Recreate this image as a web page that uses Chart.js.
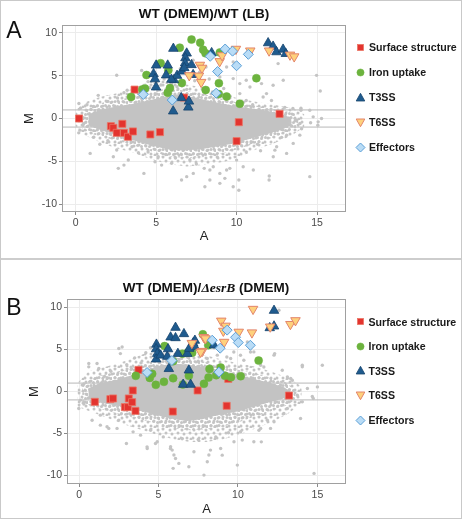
<!DOCTYPE html>
<html>
<head>
<meta charset="utf-8">
<script src="https://cdn.jsdelivr.net/npm/chart.js@4.4.1/dist/chart.umd.min.js"></script>
<style>
  body { margin: 0; background: #fff; }
  #wrap { position: relative; width: 462px; height: 519px; overflow: hidden;
          font-family: "Liberation Sans", Arial, sans-serif; background: #fff; }
  #wrap canvas { position: absolute; left: 0; }
  .frame { position: absolute; left: 0; top: 0; width: 462px; height: 519px; box-sizing: border-box;
           border: 1px solid #c9c9c9; pointer-events: none; }
  .divider { position: absolute; left: 0; top: 258px; width: 462px; height: 2px; background: #cdcdcd; }
  .ptitle { position: absolute; left: 0; text-align: center; font-weight: bold; font-size: 13.5px;
            line-height: 18px; color: #111; white-space: nowrap; }
  .ptitle .gene { font-family: "Liberation Serif", "Times New Roman", serif; font-style: italic; }
  .letter { position: absolute; left: 3px; width: 22px; text-align: center; font-size: 23px;
            line-height: 26px; color: #111; }
  .legend { position: absolute; }
  .legend .row { display: flex; align-items: center; font-weight: bold; font-size: 10.6px; color: #1a1a1a;
                 white-space: nowrap; }
  .legend svg { flex: none; }
  .legend span { margin-left: 2px; }
</style>
</head>
<body>
<div id="wrap">
  <canvas id="chartA" width="346" height="259" style="top:0"></canvas>
  <canvas id="chartB" width="346" height="259" style="top:260px"></canvas>
  <div class="ptitle" style="top:5px; width:408px">WT (DMEM)/WT (LB)</div>
  <div class="ptitle" style="top:279px; width:412px">WT (DMEM)/<span class="gene">Δ<b>esrB</b></span> (DMEM)</div>
  <div class="letter" style="top:17px">A</div>
  <div class="letter" style="top:294px">B</div>
  <div class="legend" id="legA" style="left:354px; top:34.5px"></div>
  <div class="legend" id="legB" style="left:353.5px; top:309.4px"></div>
  <div class="divider"></div>
  <div class="frame"></div>
</div>
<script>
// =============================================================================
// DATA  (A = mean log2 expression, M = log2 fold change)
// =============================================================================
const xTicks = [0, 5, 10, 15];
const yTicks = [-10, -5, 0, 5, 10];
const cutoffs = [1, -1];
const categories = ["Surface structure", "Iron uptake", "T3SS", "T6SS", "Effectors"];

// ---- panel A : WT (DMEM) / WT (LB) ----
const surfaceA = [[0.21,0.0],[2.19,-0.89],[2.34,-1.09],[2.55,-1.67],[2.9,-0.62],[3.0,-1.67],[3.25,-2.13],
  [3.56,-1.51],[3.66,3.37],[4.64,-1.86],[5.24,-1.59],[6.73,2.44],[10.14,-0.43],[10.0,-2.64],[12.67,0.54]];
const ironA = [[3.44,2.52],[4.14,3.37],[4.31,3.49],[4.4,5.07],[5.28,6.45],[5.76,5.62],[5.72,3.0],[5.86,3.55],
  [6.47,8.26],[7.2,9.2],[7.74,8.84],[7.92,8.02],[8.07,7.6],[6.6,4.14],[8.08,3.32],[8.9,4.12],[8.89,2.85],
  [8.96,7.7],[9.38,2.56],[10.2,1.72],[11.23,4.7]];
const t3ssA = [[6.07,8.15],[5.0,6.2],[4.84,5.2],[4.93,4.6],[4.99,3.65],[5.72,6.2],[5.62,5.05],[6.1,4.5],
  [6.3,5.0],[6.9,7.6],[6.82,7.05],[6.8,6.45],[6.6,5.5],[6.75,5.9],[7.2,6.25],[7.3,5.1],[8.45,7.65],
  [6.06,0.85],[6.56,2.4],[7.0,1.3],[7.04,2.0],[11.96,8.8],[12.27,8.4],[12.48,7.75],[12.89,8.05],
  [13.06,7.55],[5.95,4.55]];
const t6ssA = [[7.72,6.24],[7.85,5.89],[7.06,5.02],[7.66,4.98],[7.8,4.24],[8.95,6.66],[9.1,7.35],
  [9.96,8.1],[10.85,7.9],[12.02,7.9],[13.32,7.42],[13.58,7.22]];
const effectorA = [[4.2,2.8],[6.0,2.15],[8.36,7.25],[9.29,8.1],[9.75,7.85],[8.82,5.48],[10.0,6.15],
  [10.73,7.48],[8.73,2.95]];
// all other genes: dense core, denser and sparser fringes, and single outlying genes
const coreA = [[0.8,0.5],[1.5,1.0],[2.5,1.4],[3.5,1.7],[4.5,2.1],[5.5,2.5],[6.3,2.8],[7.0,2.6],[7.7,2.3],
  [8.7,1.9],[9.8,1.5],[10.8,1.2],[11.9,0.9],[12.8,0.5],[13.4,0.1],[13.4,-0.8],[12.8,-1.3],[11.9,-1.8],
  [10.8,-2.4],[9.8,-2.9],[8.7,-3.3],[7.7,-3.6],[6.7,-3.7],[6.0,-3.7],[5.3,-3.4],[4.6,-3.1],[3.5,-2.5],
  [2.5,-1.9],[1.5,-1.3],[0.8,-0.8]];
const midA = [[0.4,0.8],[1.0,1.5],[2.0,2.0],[3.0,2.3],[4.0,2.8],[5.0,3.3],[5.8,3.5],[6.6,3.3],[7.5,3.0],
  [8.5,2.6],[9.5,2.1],[10.5,1.7],[11.5,1.4],[12.6,1.0],[13.7,0.6],[13.9,-0.9],[13.0,-1.7],[12.0,-2.4],
  [11.0,-3.0],[10.0,-3.6],[9.0,-4.1],[8.0,-4.5],[7.0,-4.6],[6.0,-4.5],[5.0,-4.0],[4.0,-3.4],[3.0,-2.8],
  [2.0,-2.3],[1.0,-1.8],[0.4,-1.2]];
const haloA = [[0.0,1.0],[0.6,1.9],[1.5,2.5],[2.5,2.9],[3.5,3.4],[4.4,4.2],[5.2,4.6],[6.0,4.3],[7.0,3.9],
  [8.0,3.6],[9.0,3.0],[10.0,2.4],[11.0,2.0],[12.3,1.6],[13.5,1.2],[14.2,0.5],[14.2,-1.0],[13.4,-2.0],
  [12.3,-2.9],[11.2,-3.6],[10.2,-4.5],[9.3,-5.0],[8.1,-5.4],[6.9,-5.6],[5.7,-5.3],[4.6,-4.7],[3.6,-4.0],
  [2.4,-3.4],[1.3,-2.6],[0.5,-1.9],[0.0,-0.9]];
const genesA = [[0.2,1.75],[0.3,1.2],[0.7,1.6],[1.1,1.4],[1.4,2.7],[2.0,2.0],[2.55,5.05],[2.6,2.4],[3.0,3.0],
  [3.2,3.3],[3.6,2.6],[3.9,2.9],[4.1,5.6],[4.2,3.8],[4.5,4.3],[4.6,3.6],[5.0,4.1],[5.3,3.9],[5.5,4.6],
  [5.96,4.07],[6.3,3.7],[6.5,5.8],[6.9,3.4],[7.3,6.8],[7.4,4.4],[7.7,5.4],[7.9,3.5],[8.1,6.0],[8.3,4.6],
  [8.5,3.1],[8.96,4.84],[9.2,3.5],[9.38,6.0],[9.6,2.6],[9.79,6.6],[9.79,4.65],[10.2,4.07],[10.2,2.9],
  [10.6,4.46],[10.6,2.1],[10.83,3.67],[11.0,1.6],[11.55,4.07],[11.65,2.5],[11.86,2.9],[12.17,2.1],
  [12.27,3.87],[12.58,6.4],[12.9,4.46],[13.0,1.3],[13.5,1.16],[14.0,1.2],[14.0,0.97],[14.55,0.97],
  [14.76,0.19],[14.97,5.03],[15.2,3.2],[15.28,0.0],[15.07,-0.39],[13.73,-0.2],[13.94,-0.58],[13.3,-0.5],
  [0.19,-1.67],[0.27,-1.36],[0.5,-0.6],[0.9,-4.07],[1.1,-2.2],[1.5,-3.0],[2.0,-2.6],[2.34,-4.46],
  [2.55,-3.68],[2.65,-5.81],[3.0,-5.43],[3.27,-4.84],[3.5,-3.3],[3.9,-4.0],[4.24,-6.4],[4.5,-3.9],
  [4.93,-5.04],[5.13,-4.46],[5.34,-5.43],[5.6,-4.2],[5.96,-5.23],[6.2,-4.6],[6.58,-7.17],[6.9,-6.78],
  [7.1,-4.8],[7.31,-6.4],[7.5,-5.3],[7.99,-5.81],[8.03,-7.95],[8.34,-7.17],[8.34,-6.0],[8.55,-5.62],
  [8.8,-4.5],[8.96,-6.4],[8.96,-7.56],[9.27,-6.98],[9.38,-6.01],[9.58,-5.81],[9.79,-7.95],[10.0,-4.85],
  [10.14,-8.37],[10.14,-7.17],[10.41,-5.62],[10.6,-3.9],[11.04,-6.0],[11.3,-3.0],[11.49,-3.76],
  [12.02,-7.17],[12.03,-6.7],[12.28,-4.46],[12.38,-3.69],[12.49,-3.29],[12.8,-2.2],[13.11,-4.07],
  [13.11,-1.94],[13.52,-2.9],[13.93,-1.94],[14.04,-1.2],[14.55,-6.78],[14.6,-0.5],[15.05,-0.78]];

// ---- panel B : WT (DMEM) / delta esrB (DMEM) ----
const surfaceB = [[0.99,-1.23],[1.97,-0.91],[2.14,-0.83],[2.88,-1.86],[3.07,-1.86],[3.13,-0.83],[3.34,-1.27],
  [3.38,0.12],[3.55,-2.3],[3.74,2.57],[5.9,-2.38],[7.46,0.12],[9.29,-1.7],[9.39,1.5],[13.21,-0.48]];
const ironB = [[3.57,1.86],[4.45,1.62],[4.6,2.1],[4.83,0.79],[5.34,1.15],[5.92,1.58],[5.38,5.4],[5.92,3.6],
  [6.5,4.5],[6.53,0.83],[6.91,1.86],[7.12,4.6],[7.79,6.8],[7.86,0.91],[8.13,5.5],[8.15,1.66],[8.21,2.69],
  [8.63,1.94],[8.91,2.85],[9.18,1.86],[9.56,1.7],[10.17,1.82],[11.3,3.68],[6.84,4.63]];
const t3ssB = [[4.87,5.6],[4.85,5.05],[4.92,4.5],[4.85,3.84],[5.13,4.3],[5.55,4.15],[5.6,5.05],[5.65,2.7],
  [5.76,6.45],[6.07,6.37],[6.07,7.6],[6.6,6.85],[6.22,4.5],[6.81,4.5],[6.55,0.83],[7.02,0.83],[6.91,2.53],
  [7.18,5.75],[7.29,6.06],[7.29,5.3],[8.49,5.5],[6.93,5.1],[12.0,7.56],[12.27,7.76],[12.27,9.62]];
const t6ssB = [[10.95,9.8],[8.95,8.4],[9.22,7.8],[9.08,7.2],[10.05,7.08],[10.88,7.0],[9.13,5.88],[12.03,7.7],
  [13.3,8.0],[13.62,8.45],[7.75,4.8],[7.85,6.45],[7.95,6.3],[7.1,5.75],[7.65,4.7]];
const effectorB = [[4.28,2.26],[5.84,3.68],[8.38,6.1],[8.88,5.15],[9.32,7.3],[9.85,6.45],[10.02,5.82],
  [10.78,5.5],[8.8,2.3]];
const coreB = [[0.6,0.4],[1.3,1.0],[2.4,1.4],[3.4,2.0],[4.3,2.6],[5.1,3.1],[6.0,3.3],[6.8,3.2],[7.7,2.9],
  [8.5,2.7],[9.4,2.3],[10.2,1.9],[11.0,1.5],[11.9,1.1],[12.9,0.5],[13.3,0.0],[13.3,-0.6],[12.9,-0.8],
  [11.9,-1.3],[11.0,-1.8],[10.2,-2.3],[9.4,-2.6],[8.5,-2.9],[7.7,-3.3],[6.8,-3.5],[6.0,-3.3],[5.1,-2.9],
  [4.3,-2.5],[3.4,-2.1],[2.4,-1.7],[1.3,-1.3],[0.6,-0.8]];
const midB = [[0.2,0.8],[0.9,1.7],[2.0,2.2],[3.2,2.7],[4.2,3.4],[5.1,3.9],[6.1,4.0],[7.0,3.8],[8.0,3.5],
  [9.0,3.0],[10.0,2.6],[11.0,2.2],[12.0,1.7],[13.0,1.1],[13.6,0.3],[13.6,-1.0],[13.0,-1.7],[12.0,-2.4],
  [11.0,-3.0],[10.0,-3.7],[9.0,-4.2],[8.0,-4.5],[7.0,-4.6],[6.0,-4.4],[5.0,-3.9],[4.0,-3.4],[3.0,-2.9],
  [2.0,-2.4],[1.0,-1.9],[0.2,-1.3]];
const haloB = [[-0.1,1.0],[0.6,2.4],[1.8,3.0],[3.0,3.7],[4.1,4.5],[5.1,4.9],[6.2,4.7],[7.2,4.5],[8.2,4.2],
  [9.2,3.7],[10.2,3.3],[11.2,2.9],[12.2,2.3],[13.2,1.6],[14.0,0.6],[14.0,-1.4],[13.2,-2.6],[12.2,-3.6],
  [11.1,-4.4],[10.0,-5.2],[9.0,-5.7],[8.0,-6.0],[7.0,-6.0],[6.0,-5.7],[5.0,-5.2],[4.0,-4.6],[3.0,-4.0],
  [2.0,-3.3],[1.0,-2.6],[-0.1,-1.8]];
const genesB = [[0.08,-1.03],[0.3,0.9],[0.61,2.93],[0.61,3.33],[1.13,3.33],[1.24,2.73],[1.6,1.8],[2.0,2.4],
  [2.5,5.11],[2.6,4.51],[2.71,5.3],[3.0,3.2],[3.3,2.7],[3.5,4.0],[3.9,3.4],[4.2,4.6],[4.5,5.2],[5.1,3.5],
  [5.5,4.3],[6.3,3.8],[6.9,4.0],[7.5,3.6],[8.07,3.92],[8.5,5.2],[8.7,4.32],[9.3,4.1],[9.54,3.92],
  [9.74,4.7],[10.16,4.31],[10.37,3.72],[10.59,5.9],[10.79,4.7],[11.0,4.71],[11.43,3.13],[11.63,2.92],
  [12.27,4.32],[12.31,4.51],[12.58,9.66],[12.79,2.53],[13.11,1.73],[13.32,1.54],[13.42,1.34],[12.68,0.75],
  [14.05,2.93],[14.05,3.12],[15.31,3.12],[15.0,0.55],[14.37,0.36],[13.74,-0.44],[14.74,-0.83],
  [14.68,-0.6],[14.05,-1.23],[13.11,-2.02],
  [-0.02,-2.02],[0.3,-1.5],[0.82,-3.41],[1.34,-2.81],[1.34,-4.0],[1.76,-4.2],[1.87,-4.39],[2.39,-4.39],
  [2.5,-3.4],[2.98,-6.18],[3.4,-4.8],[3.87,-5.19],[4.28,-6.58],[4.29,-6.77],[4.5,-4.6],[4.81,-6.18],
  [4.92,-5.98],[5.3,-5.4],[5.75,-6.77],[5.76,-6.57],[5.86,-6.97],[5.97,-7.56],[6.07,-7.96],[5.92,-9.14],
  [6.28,-8.55],[6.5,-5.6],[6.91,-8.95],[7.23,-7.17],[7.5,-5.7],[7.86,-9.94],[8.07,-8.36],[8.17,-7.56],
  [8.27,-6.97],[8.6,-5.4],[8.91,-6.77],[9.01,-7.57],[9.4,-4.9],[9.75,-5.98],[9.96,-8.75],[10.17,-4.79],
  [10.27,-5.78],[11.0,-5.98],[11.32,-4.6],[11.43,-4.39],[11.47,-5.99],[11.85,-3.41],[12.05,-4.39],
  [12.27,-3.6],[12.89,-2.61],[13.94,-3.21],[14.79,-9.74]];

// =============================================================================
// STYLE
// =============================================================================
const FONT = '"Liberation Sans", Arial, sans-serif';
const GENE_GREY = "#c4c4c4";
const catStyle = [
  { pointStyle: "rect",    rotation: 0,   radius: 5,   bg: "#e3342f", border: "#ec7565", bw: 0.8 },
  { pointStyle: "circle",  rotation: 0,   radius: 4,   bg: "#6cb33e", border: "#6cb33e", bw: 0.5 },
  { pointStyle: "triangle",rotation: 0,   radius: 5.5, bg: "#1f5b8e", border: "#16446d", bw: 0.8 },
  { pointStyle: "triangle",rotation: 180, radius: 5.5, bg: "#fed17c", border: "#e3846a", bw: 1 },
  { pointStyle: "rectRot", rotation: 0,   radius: 5,   bg: "#b9dcf6", border: "#5b9fd6", bw: 1 }
];
const legendSvg = [
  '<rect x="3.5" y="3.5" width="6" height="6"/>',
  '<circle cx="6.5" cy="6.5" r="3.6"/>',
  '<polygon points="6.5,2.3 10.8,10 2.2,10"/>',
  '<polygon points="2.2,3 10.8,3 6.5,10.7"/>',
  '<polygon points="6.5,2 11,6.5 6.5,11 2,6.5"/>'
];

const toXY = pts => pts.map(([x, y]) => ({ x, y }));

// speckled fills so the fringes of the gene cloud read as scattered dots
function speckle(size, dots) {
  const c = document.createElement("canvas");
  c.width = size; c.height = size;
  const g = c.getContext("2d");
  g.fillStyle = GENE_GREY;
  dots.forEach(([x, y]) => {
    g.beginPath(); g.arc(x, y, 1.5, 0, Math.PI * 2); g.fill();
  });
  return g.createPattern(c, "repeat");
}
const sparseDots = [[2, 2], [7, 1], [10, 5], [4, 6], [1, 10], [7, 10], [11, 11]];
const denseDots = [[1.5, 1.5], [5.5, 2.5], [3, 5.5], [7, 6.5]];

// panel border (ggplot theme_bw style)
const panelBorder = {
  id: "panelBorder",
  afterDatasetsDraw(chart) {
    const { ctx, chartArea: a } = chart;
    ctx.save();
    ctx.strokeStyle = "#a0a0a0";
    ctx.lineWidth = 1;
    ctx.strokeRect(a.left + 0.5, a.top + 0.5, a.right - a.left - 1, a.bottom - a.top - 1);
    ctx.restore();
  }
};

// =============================================================================
// CHART
// =============================================================================
function buildPanel(canvasId, legendId, p) {
  const datasets = [];
  const shape = (pts, fillStyle, order) => ({
    type: "line", data: toXY(pts), fill: "shape", backgroundColor: fillStyle,
    borderWidth: 0, pointRadius: 0, order
  });

  cutoffs.forEach(m => datasets.push({
    type: "line", data: toXY([[p.xMin, m], [p.xMax, m]]),
    borderColor: "#b7b7b7", borderWidth: 1, pointRadius: 0, order: 30
  }));
  datasets.push(shape(p.halo, speckle(12, sparseDots), 29));
  datasets.push(shape(p.mid, speckle(8, denseDots), 28));
  datasets.push(shape(p.core, "#c3c3c3", 27));
  datasets.push({
    data: toXY(p.genes), pointRadius: 1.7, backgroundColor: GENE_GREY, borderWidth: 0, order: 26
  });

  p.groups.forEach((pts, i) => {
    const s = catStyle[i];
    datasets.push({
      label: categories[i], isCategory: true, styleIndex: i,
      data: toXY(pts),
      pointStyle: s.pointStyle, rotation: s.rotation, pointRadius: s.radius,
      backgroundColor: s.bg, borderColor: s.border, borderWidth: s.bw,
      order: 10 - i
    });
  });

  const chart = new Chart(document.getElementById(canvasId), {
    type: "scatter",
    data: { datasets },
    options: {
      responsive: false,
      animation: false,
      events: [],
      layout: { autoPadding: false, padding: { top: p.padTop, left: 0, right: 0, bottom: 0 } },
      plugins: { legend: { display: false }, tooltip: { enabled: false } },
      scales: {
        x: {
          type: "linear", min: p.xMin, max: p.xMax,
          afterBuildTicks: s => { s.ticks = xTicks.map(v => ({ value: v })); },
          afterFit: s => { s.height = p.xAxisH; },
          grid: { color: "#ececec", tickColor: "#8a8a8a", tickLength: 3 },
          border: { display: false },
          ticks: { color: "#4a4a4a", font: { size: 10.5, family: FONT }, padding: 2, maxRotation: 0 },
          title: { display: true, text: "A", color: "#222", font: { size: 13, family: FONT },
                   padding: { top: 0, bottom: p.xTitlePad } }
        },
        y: {
          type: "linear", min: p.yMin, max: p.yMax,
          afterBuildTicks: s => { s.ticks = yTicks.map(v => ({ value: v })); },
          afterFit: s => { s.width = p.yAxisW; },
          grid: { color: "#ececec", tickColor: "#8a8a8a", tickLength: 3 },
          border: { display: false },
          ticks: { color: "#4a4a4a", font: { size: 10.5, family: FONT }, padding: 2 },
          title: { display: true, text: "M", color: "#222", font: { size: 13, family: FONT },
                   padding: { top: p.yTitlePad, bottom: 0 } }
        }
      }
    },
    plugins: [panelBorder]
  });

  // legend built from the chart's own category datasets
  const leg = document.getElementById(legendId);
  chart.data.datasets.filter(d => d.isCategory).forEach(d => {
    const s = catStyle[d.styleIndex];
    const row = document.createElement("div");
    row.className = "row";
    row.style.height = p.legendRowH + "px";
    row.innerHTML =
      `<svg width="13" height="13" fill="${s.bg}" stroke="${s.border}" stroke-width="${s.bw}">` +
      legendSvg[d.styleIndex] + `</svg><span>${d.label}</span>`;
    leg.appendChild(row);
  });
  return chart;
}

buildPanel("chartA", "legA", {
  groups: [surfaceA, ironA, t3ssA, t6ssA, effectorA],
  core: coreA, mid: midA, halo: haloA, genes: genesA,
  xMin: -0.85, xMax: 16.8, yMin: -10.9, yMax: 10.9,
  padTop: 25, xAxisH: 47, yAxisW: 62, xTitlePad: 14.5, yTitlePad: 22, legendRowH: 25
});

buildPanel("chartB", "legB", {
  groups: [surfaceB, ironB, t3ssB, t6ssB, effectorB],
  core: coreB, mid: midB, halo: haloB, genes: genesB,
  xMin: -0.76, xMax: 16.8, yMin: -11, yMax: 11,
  padTop: 39, xAxisH: 35, yAxisW: 67, xTitlePad: 2, yTitlePad: 27, legendRowH: 24.6
});
</script>
</body>
</html>
